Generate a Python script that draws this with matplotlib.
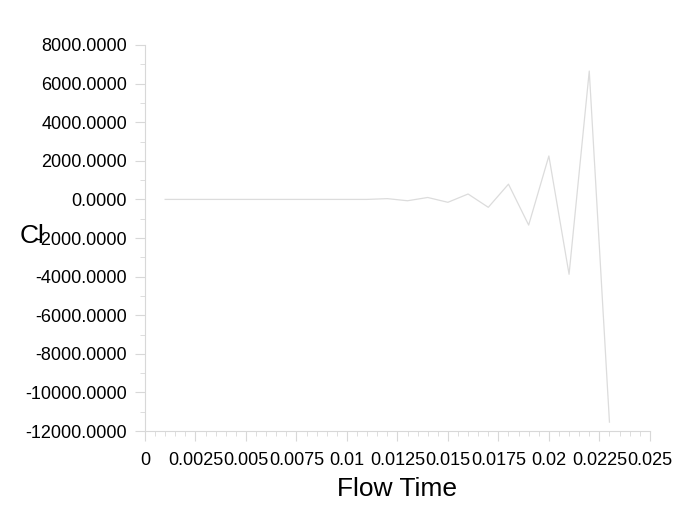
import matplotlib
matplotlib.use("Agg")
import matplotlib.pyplot as plt
from matplotlib.ticker import MultipleLocator, FormatStrFormatter, FixedLocator

# Donnees
flow_time = [0.001, 0.002, 0.003, 0.004, 0.005, 0.006, 0.007, 0.008, 0.009, 0.010,
             0.011, 0.012, 0.013, 0.014, 0.015, 0.016, 0.017, 0.018, 0.019, 0.020,
             0.021, 0.022, 0.023]
cl = [0, 0, 0, 0, 0, 0, 0, 0, 0, 0,
      0, 40, -70, 100, -150, 280, -410, 790, -1330, 2250,
      -3880, 6650, -11540]

x_ticks = [0, 0.0025, 0.005, 0.0075, 0.01, 0.0125, 0.015, 0.0175, 0.02, 0.0225, 0.025]
x_labels = ["0", "0.0025", "0.005", "0.0075", "0.01", "0.0125", "0.015", "0.0175", "0.02", "0.0225", "0.025"]

plt.rcParams['font.family'] = ['Liberation Sans', 'DejaVu Sans']

fig = plt.figure(figsize=(6.98, 5.09), dpi=100)
ax = fig.add_axes([0.2077, 0.1532, 0.7233, 0.7584])

ax.plot(flow_time, cl, color="#dcdcdc", linewidth=0.9)

ax.set_xlim(0, 0.025)
ax.set_ylim(-12000, 8000)

ax.xaxis.set_major_locator(FixedLocator(x_ticks))
ax.set_xticklabels(x_labels)
ax.xaxis.set_minor_locator(MultipleLocator(0.0005))
ax.yaxis.set_major_locator(MultipleLocator(2000))
ax.yaxis.set_minor_locator(MultipleLocator(1000))
ax.yaxis.set_major_formatter(FormatStrFormatter("%.4f"))

for s in ["top", "right"]:
    ax.spines[s].set_visible(False)
for s in ["left", "bottom"]:
    ax.spines[s].set_color("#d8d8d8")
    ax.spines[s].set_linewidth(0.8)

ax.tick_params(which="major", length=7, color="#d8d8d8", labelsize=13, pad=6)
ax.tick_params(which="minor", length=3.5, color="#d8d8d8")
ax.tick_params(axis="x", which="major", pad=8)

ax.set_xlabel("Flow Time", fontsize=19, labelpad=6)
# le label "Cl" chevauche la graduation comme sur l'original
ax.set_ylabel("Cl", fontsize=19, rotation=0, labelpad=0)
ax.yaxis.set_label_coords(-0.224, 0.474)

fig.savefig("out.png", dpi=100)
